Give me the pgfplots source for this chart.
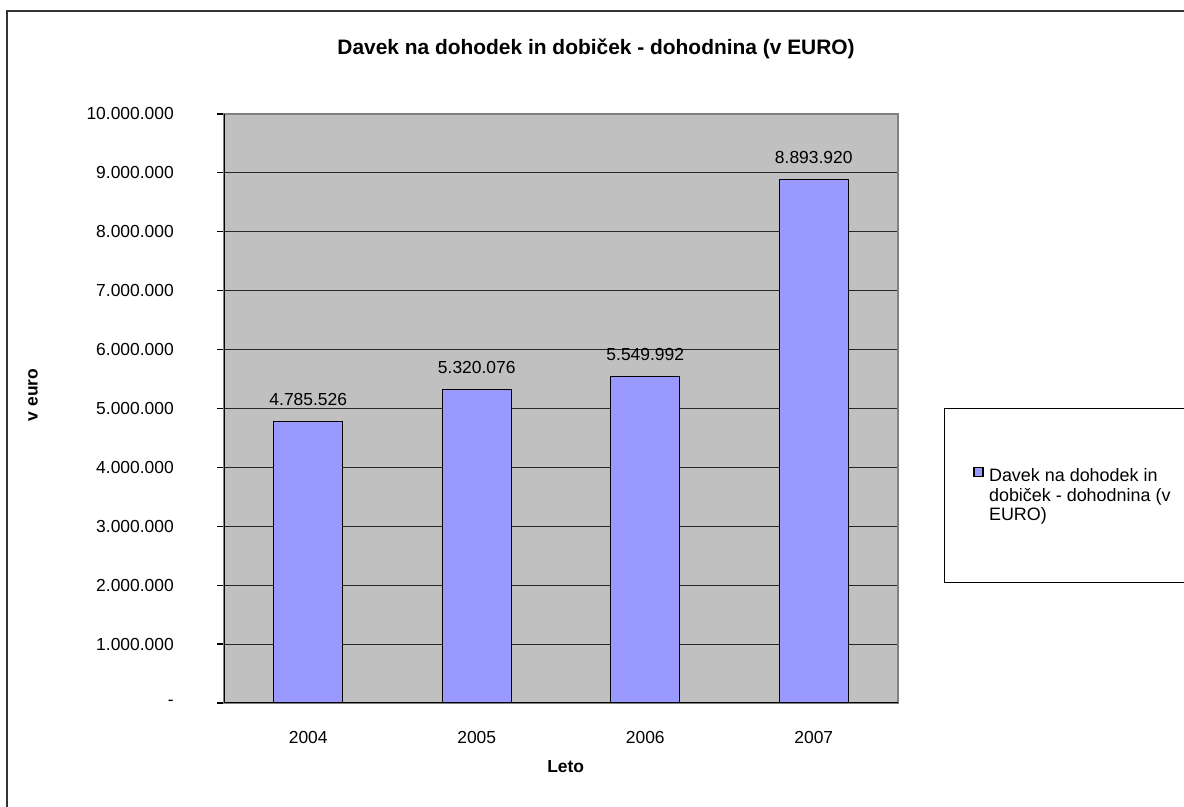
\documentclass[border=0pt]{standalone}
\usepackage{pgfplots}
\pgfplotsset{compat=1.18}
\usepackage{fontspec}
\setmainfont{Liberation Sans}
\definecolor{plotgray}{RGB}{192,192,192}
\definecolor{barblue}{RGB}{153,153,255}
\definecolor{bordergray}{RGB}{128,128,128}
\begin{document}
\begin{tikzpicture}
\path[use as bounding box] (0bp,0bp) rectangle (1184bp,807bp);
\draw[line width=2bp, black!80] (7bp,0bp) -- (7bp,796bp) -- (1184bp,796bp);
\begin{axis}[
  at={(224bp,104bp)}, anchor=south west,
  width=674bp, height=589bp, scale only axis,
  xmin=-0.5, xmax=3.5, ymin=0, ymax=10000000,
  axis background/.style={fill=plotgray},
  axis line style={draw=bordergray, line width=1.2bp},
  ymajorgrids, grid style={black!85, line width=1.1bp},
  ytick={0,1000000,2000000,3000000,4000000,5000000,6000000,7000000,8000000,9000000,10000000},
  yticklabels={-,1.000.000,2.000.000,3.000.000,4.000.000,5.000.000,6.000.000,7.000.000,8.000.000,9.000.000,10.000.000},
  scaled y ticks=false,
  xtick={0,1,2,3}, xticklabels={2004,2005,2006,2007},
  major x tick style={draw=none},
  extra x ticks={-0.5,0.5,1.5,2.5,3.5}, extra x tick labels={},
  extra x tick style={major tick length=7bp, tick align=outside, tick style={draw=black, line width=1.2bp}},
  tick align=outside, major tick length=7bp,
  ytick pos=left, xtick pos=bottom,
  y tick style={draw=black, line width=1.2bp},
  tick label style={font=\fontsize{17.5}{21}\selectfont, inner sep=0pt},
  yticklabel style={anchor=east, xshift=-43bp},
  xticklabel style={anchor=north, yshift=-21bp},
  title={Davek na dohodek in dobiček - dohodnina (v EURO)},
  title style={at={(axis description cs:0.552,1.101)}, anchor=center, font=\fontsize{21}{25}\selectfont\bfseries},
  xlabel={Leto},
  every axis x label/.style={at={(axis description cs:0.507,-0.1087)}, anchor=center, font=\fontsize{17.5}{21}\selectfont\bfseries},
  ylabel={v euro},
  every axis y label/.style={at={(axis description cs:-0.2834,0.523)}, anchor=center, rotate=90, font=\fontsize{17.5}{21}\selectfont\bfseries},
  legend style={at={(axis description cs:1.0682,0.5008)}, anchor=north west,
    draw=black, line width=1bp, inner xsep=29bp, inner ysep=58bp,
    font=\fontsize{18}{19.5}\selectfont,
    nodes={align=left, inner sep=2bp}},
  legend cell align=left,
  legend image code/.code={\draw[#1, line width=1.2bp] (0bp,19.5bp) rectangle (9bp,28.5bp); \path[draw=none,fill=none] (0bp,19.5bp) rectangle (13bp,20bp);},
]
\addplot[ybar, bar width=69bp, fill=barblue, draw=black, line width=1.2bp,
  nodes near coords, point meta=explicit symbolic,
  every node near coord/.append style={anchor=south, inner sep=0pt, yshift=15bp, font=\fontsize{17.5}{21}\selectfont, text=black}]
  coordinates {(0,4785526)[4.785.526] (1,5320076)[5.320.076] (2,5549992)[5.549.992] (3,8893920)[8.893.920]};
\addlegendentry{Davek na dohodek in\\dobiček - dohodnina (v\\EURO)}
\draw[black, line width=1.5bp] (rel axis cs:0,1) -- (rel axis cs:0,0) -- (rel axis cs:1,0);
\end{axis}
\end{tikzpicture}
\end{document}
